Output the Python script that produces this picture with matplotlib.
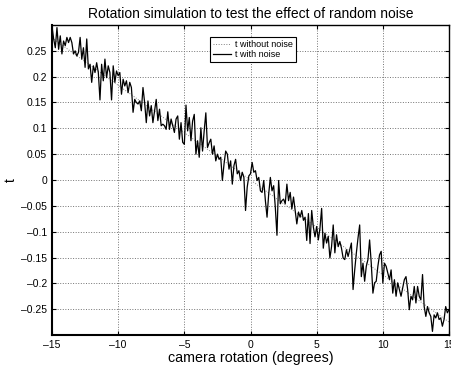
import numpy as np
import matplotlib
matplotlib.use("Agg")
import matplotlib.pyplot as plt

plt.rcParams['font.family'] = ['Liberation Sans', 'DejaVu Sans']

# camera rotation, sampled every 0.125 degrees
rotation = np.linspace(-15, 15, 241)

# t with noise
t_noise = [
    0.298, 0.273, 0.256, 0.295, 0.253, 0.279, 0.244, 0.269, 0.260, 0.276,
    0.266, 0.276, 0.266, 0.244, 0.250, 0.240, 0.247, 0.276, 0.234, 0.256,
    0.218, 0.273, 0.215, 0.224, 0.189, 0.221, 0.208, 0.227, 0.208, 0.155,
    0.224, 0.192, 0.234, 0.198, 0.221, 0.208, 0.155, 0.221, 0.189, 0.211,
    0.202, 0.208, 0.166, 0.195, 0.182, 0.192, 0.169, 0.189, 0.179, 0.131,
    0.156, 0.150, 0.147, 0.153, 0.134, 0.179, 0.150, 0.111, 0.153, 0.124,
    0.144, 0.111, 0.134, 0.156, 0.115, 0.137, 0.105, 0.108, 0.105, 0.098,
    0.132, 0.098, 0.118, 0.105, 0.092, 0.118, 0.124, 0.079, 0.111, 0.073,
    0.069, 0.145, 0.095, 0.121, 0.076, 0.114, 0.127, 0.050, 0.076, 0.044,
    0.101, 0.056, 0.095, 0.130, 0.063, 0.072, 0.079, 0.050, 0.066, 0.037,
    0.050, 0.040, 0.044, -0.001, 0.031, 0.056, 0.050, 0.021, 0.037, -0.008,
    0.028, 0.040, 0.012, 0.018, -0.001, 0.015, 0.005, -0.059, -0.014, 0.008,
    0.012, 0.034, 0.015, 0.018, -0.001, 0.005, -0.021, -0.024, -0.001, -0.040,
    -0.072, -0.027, 0.005, -0.021, -0.011, -0.053, -0.107, -0.001, -0.046, -0.040,
    -0.037, -0.046, -0.008, -0.040, -0.024, -0.056, -0.033, -0.059, -0.085, -0.062,
    -0.072, -0.059, -0.078, -0.072, -0.117, -0.065, -0.123, -0.059, -0.091, -0.110,
    -0.090, -0.116, -0.093, -0.055, -0.132, -0.103, -0.122, -0.109, -0.151, -0.129,
    -0.087, -0.141, -0.106, -0.129, -0.119, -0.132, -0.151, -0.154, -0.135, -0.148,
    -0.135, -0.122, -0.212, -0.174, -0.141, -0.112, -0.087, -0.187, -0.161, -0.196,
    -0.167, -0.154, -0.116, -0.161, -0.219, -0.199, -0.196, -0.167, -0.145, -0.138,
    -0.199, -0.161, -0.167, -0.180, -0.193, -0.174, -0.219, -0.193, -0.225, -0.199,
    -0.212, -0.225, -0.209, -0.193, -0.187, -0.212, -0.251, -0.225, -0.232, -0.206,
    -0.238, -0.206, -0.225, -0.232, -0.183, -0.245, -0.264, -0.245, -0.257, -0.264,
    -0.293, -0.261, -0.267, -0.257, -0.270, -0.267, -0.283, -0.270, -0.245, -0.257,
    -0.251,
]

# t without noise
rot_clean = [-15, 15]
t_clean = [0.275, -0.275]

xticks = [-15, -10, -5, 0, 5, 10, 15]
yticks = [-0.25, -0.2, -0.15, -0.1, -0.05, 0, 0.05, 0.1, 0.15, 0.2, 0.25]


def lab(v):
    return ("%g" % v).replace("-", "\u2013")


fig = plt.figure(figsize=(4.51, 3.72), dpi=100)
ax = fig.add_axes([52/451, 37/372, 397/451, 310/372])

ax.plot(rot_clean, t_clean, ':', color='0.5', lw=0.7, label="t without noise")
ax.plot(rotation, t_noise, '-', color='black', lw=0.9, label="t with noise")

ax.set_xlim(-15, 15)
ax.set_ylim(-0.3, 0.3)
ax.set_xticks(xticks)
ax.set_yticks(yticks)
ax.set_xticklabels([lab(v) for v in xticks])
ax.set_yticklabels([lab(v) for v in yticks])

ax.grid(True, linestyle=':', color='0.45', lw=0.7)
ax.tick_params(top=True, right=True, direction="in", labelsize=7.5, length=3, width=0.8)
for s in ax.spines.values():
    s.set_linewidth(1.0)
ax.spines['left'].set_linewidth(1.5)
ax.spines['bottom'].set_linewidth(1.5)

ax.set_title("Rotation simulation to test the effect of random noise", fontsize=10, pad=5)
ax.set_xlabel("camera rotation (degrees)", fontsize=10.3, labelpad=1)
ax.set_ylabel("t", fontsize=10)
ax.yaxis.set_label_coords(-0.085, 0.5)

leg = ax.legend(loc="upper left", bbox_to_anchor=(0.398, 0.96), fontsize=6.5,
                frameon=True, fancybox=False, edgecolor='black', framealpha=1,
                borderpad=0.3, handlelength=2.0, handletextpad=0.5,
                labelspacing=0.1, borderaxespad=0)
leg.get_frame().set_linewidth(0.8)

fig.savefig("out.png", dpi=100)
